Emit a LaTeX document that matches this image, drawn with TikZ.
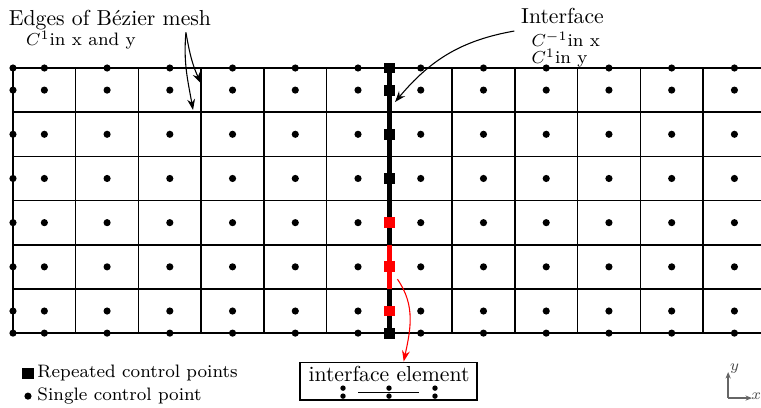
\documentclass[tikz,border=0pt]{standalone}
\usetikzlibrary{arrows.meta}

\begin{document}
\begin{tikzpicture}[x=1.016cm, y=0.7156cm,
  mesh/.style={line width=0.7pt},
  iface/.style={line width=2.3pt},
  rep/.style={rectangle, fill=black, minimum size=5pt, inner sep=0pt},
  note/.style={inner sep=1pt},
  smallnote/.style={inner sep=0pt, font=\fontsize{8.3pt}{10pt}\selectfont},
  pointer/.style={-{Stealth[length=5pt,width=3.6pt]}, line width=0.5pt},
  axis/.style={-{Stealth[length=3pt,width=2.4pt]}, line width=0.6pt, draw=black!60}
]
\useasboundingbox (-0.207,-1.675) rectangle (11.924,7.539);

% Bezier mesh
\foreach \j in {0,...,6} \draw[mesh] (0,\j) -- (11.924,\j);
\foreach \i in {0,...,11} \draw[mesh] (\i,0) -- (\i,6);
\foreach \x in {0,0.5,1.5,2.5,3.5,4.5,5.5,6.5,7.5,8.5,9.5,10.5,11.5}
  \foreach \y in {0,0.5,1.5,2.5,3.5,4.5,5.5,6}
    \fill (\x,\y) circle (1.65pt);

% interface
\draw[iface] (6,0) -- (6,6);
\draw[iface, red] (6,1) -- (6,2);
\foreach \y/\c [count=\k] in {0/black,0.5/red,1.5/red,2.5/red,3.5/black,4.5/black,5.5/black,6/black}
  \node[rep, fill=\c] (sq\k) at (6,\y) {};

% annotations
\node[note] (edges) at (1.546,7.086) {Edges of B\'ezier mesh};
\node[smallnote] (edgescont) at (1.084,6.633) {$C^1$in x and y};
\node[inner sep=0pt] (ifacetxt) at (8.76,7.17) {Interface};
\node[smallnote, anchor=north west, align=left] (ifacecont) at (8.26,6.83) {$C^{-1}$in x\\[-2pt]$C^1$in y};
\coordinate (edgeA) at (2.997,5.653);
\coordinate (edgeB) at (2.87,5.05);
\coordinate (ifaceend) at (6.09,5.23);
\draw[pointer] ([xshift=35pt]edges.south) to[out=-80, in=115] (edgeA);
\draw[pointer] ([xshift=35pt]edges.south) to[out=-95, in=100] (edgeB);
\draw[pointer] ([xshift=-3pt,yshift=-3pt]ifacetxt.south west) to[out=190, in=50] (ifaceend);

% interface element
\node[draw, line width=0.6pt, minimum width=81.6pt, minimum height=17.5pt] (elem) at (5.986,-1.087) {};
\node[inner sep=0pt] (elemtxt) at (5.994,-0.93) {interface element};
\draw[line width=0.5pt] (5.5,-1.336) -- (6.48,-1.336);
\foreach \x in {5.261,5.994,6.727} {
  \fill (\x,-1.245) circle (1.25pt);
  \fill (\x,-1.426) circle (1.25pt);
}
\draw[pointer, red] ([xshift=1pt,yshift=-3pt]sq3.south east) to[out=-55, in=78] ([xshift=7pt]elem.north);

% legend
\node[rep, minimum size=5.2pt] (legrep) at (0.239,-0.906) {};
\node[smallnote, anchor=west] (legreptxt) at (0.383,-0.906) {Repeated control points};
\fill (0.239,-1.426) circle (1.65pt) coordinate (legsingle);
\node[smallnote, anchor=west] (legsingletxt) at (0.383,-1.426) {Single control point};

% axes
\coordinate (orig) at (11.40,-1.47);
\node[inner sep=0pt, font=\scriptsize, anchor=south west, text=black!70] (ylab) at (11.42,-0.93) {$y$};
\node[inner sep=0pt, font=\scriptsize, text=black!70] (xlab) at (11.85,-1.43) {$x$};
\draw[axis] (orig) -- (11.40,-0.88);
\draw[axis] (orig) -- (11.78,-1.47);
\end{tikzpicture}
\end{document}
